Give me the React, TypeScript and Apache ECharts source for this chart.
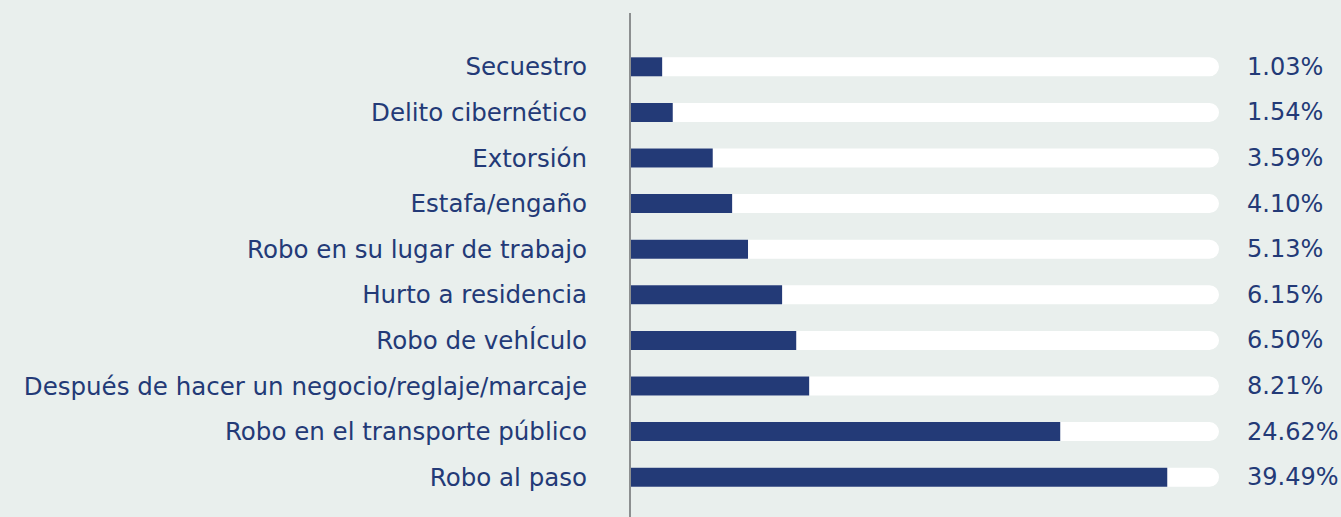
import React, { useEffect, useRef } from "react";
import * as echarts from "echarts";

const categories = [
  "Secuestro",
  "Delito cibernético",
  "Extorsión",
  "Estafa/engaño",
  "Robo en su lugar de trabajo",
  "Hurto a residencia",
  "Robo de vehÍculo",
  "Después de hacer un negocio/reglaje/marcaje",
  "Robo en el transporte público",
  "Robo al paso",
];
const percents = [1.03, 1.54, 3.59, 4.1, 5.13, 6.15, 6.5, 8.21, 24.62, 39.49];
// bar lengths as drawn in the picture, on a 0-100 track scale
const barLengths = [5.3, 7.1, 13.9, 17.2, 19.9, 25.7, 28.1, 30.3, 73.0, 91.2];
const trackMax = 100;
const trackValues = categories.map(() => trackMax);

const NAVY = "#233a77";
const FONT = "DejaVu Sans";

export default function App() {
  const ref = useRef<HTMLDivElement>(null);
  useEffect(() => {
    if (!ref.current) return;
    const chart = echarts.init(ref.current, null, { renderer: "svg" });
    chart.setOption({
      animation: false,
      backgroundColor: "#e9efed",
      grid: { left: 631, right: 122, top: 44, bottom: 17, containLabel: false },
      xAxis: {
        type: "value",
        min: 0,
        max: trackMax,
        show: false,
      },
      yAxis: {
        type: "category",
        data: categories,
        inverse: true,
        axisLine: { show: false },
        axisTick: { show: false },
        axisLabel: {
          margin: 44,
          color: NAVY,
          fontFamily: FONT,
          fontSize: 24.5,
          padding: [0, 0, 4, 0],
        },
      },
      graphic: [
        {
          type: "line",
          shape: { x1: 630, y1: 13, x2: 630, y2: 517 },
          style: { stroke: "#8c8f90", lineWidth: 2 },
          z: 100,
        },
      ],
      series: [
        {
          type: "bar",
          data: trackValues,
          barWidth: 19,
          itemStyle: { color: "#ffffff", borderRadius: [0, 9.5, 9.5, 0] },
          label: {
            show: true,
            position: "right",
            distance: 28,
            color: NAVY,
            fontFamily: FONT,
            fontSize: 24,
            padding: [0, 0, 4, 0],
            formatter: (p: any) => percents[p.dataIndex].toFixed(2) + "%",
          },
          silent: true,
        },
        {
          type: "bar",
          data: barLengths,
          barWidth: 19,
          barGap: "-100%",
          itemStyle: { color: NAVY },
        },
      ],
    });
    return () => chart.dispose();
  }, []);
  return (
    <div
      ref={ref}
      style={{ position: "fixed", left: 0, top: 0, width: 1341, height: 517 }}
    />
  );
}
